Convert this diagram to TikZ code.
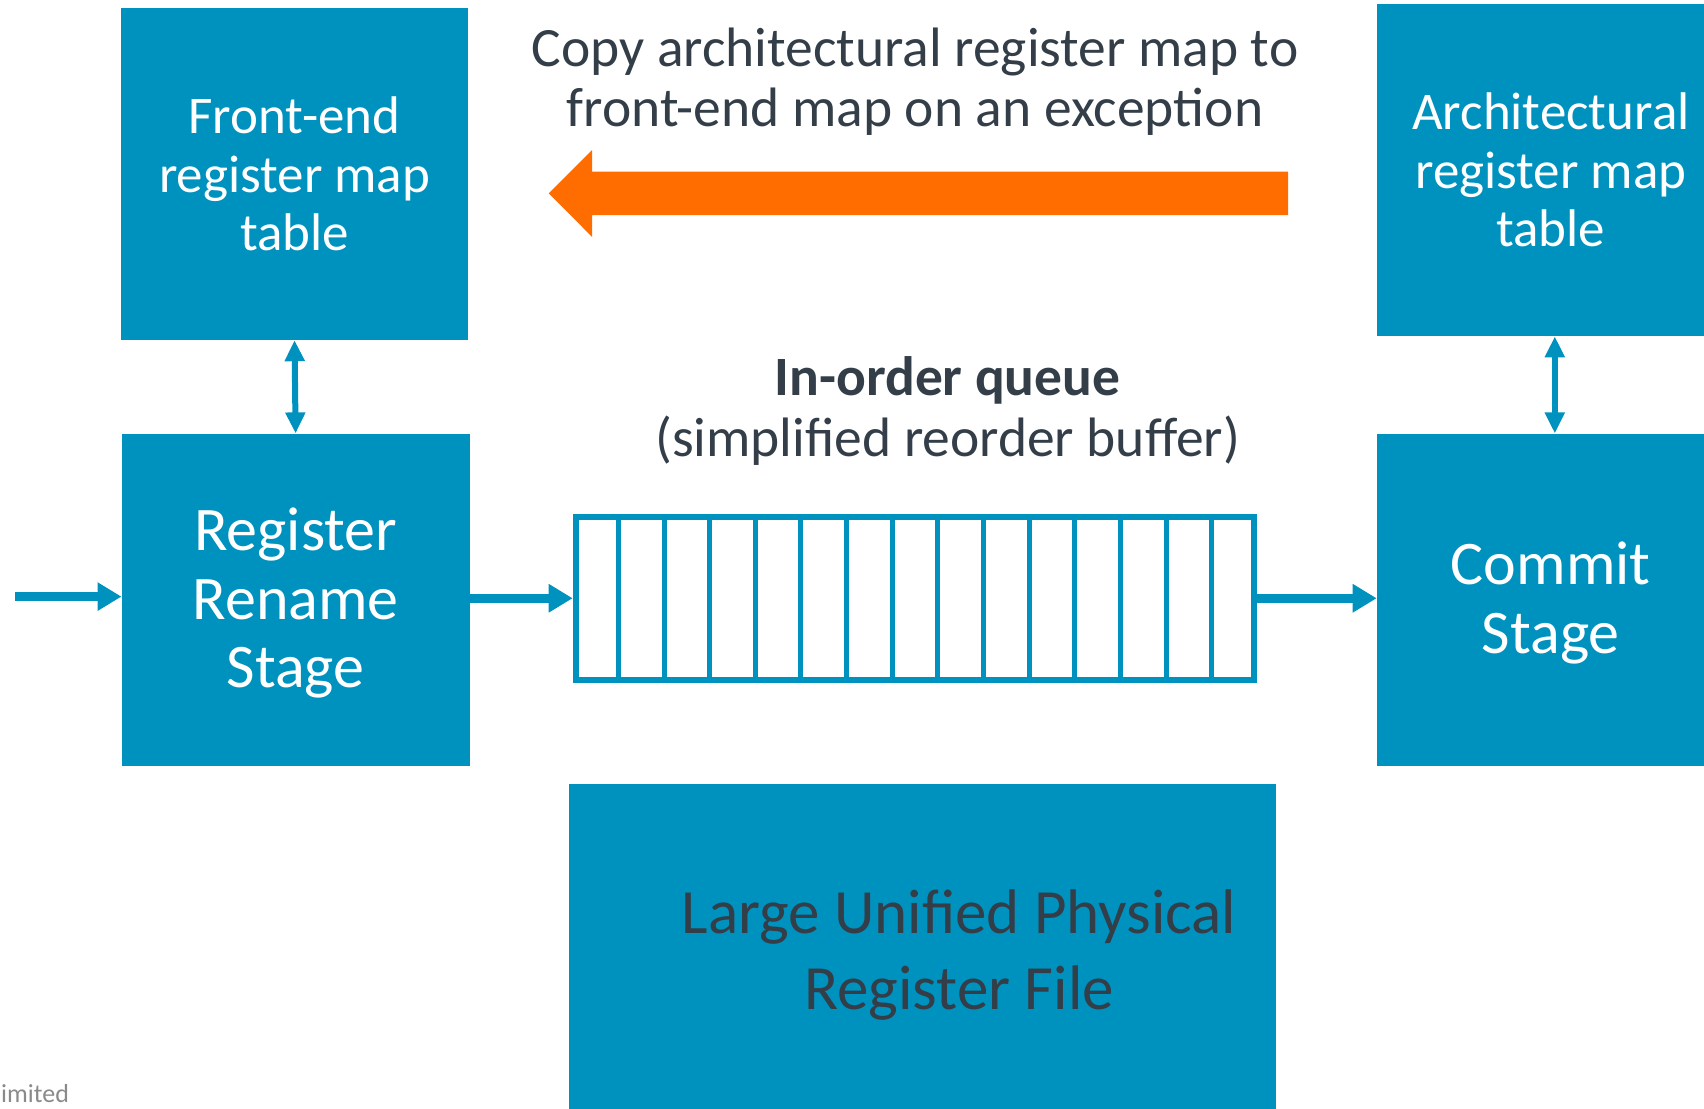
\documentclass[tikz,border=0pt]{standalone}
\usepackage{fontspec}
\setmainfont{Carlito}
\usetikzlibrary{arrows.meta,calc}
\definecolor{armblue}{HTML}{0092BE}
\definecolor{armorange}{HTML}{FF6C00}
\definecolor{inkdark}{HTML}{333E48}
\definecolor{footgray}{HTML}{8A8A8A}
\tikzset{
  block/.style={fill=armblue, inner sep=0pt, minimum width=347.8, minimum height=332.4,
    text=white, align=center},
  flow/.style={armblue, line width=8.5pt, -{Triangle[length=24pt, width=27pt]}},
  link/.style={armblue, line width=6pt, {Triangle[length=21pt, width=19pt]}-{Triangle[length=21pt, width=19pt]}},
  caption/.style={text=inkdark, align=center, inner sep=0pt},
}
\begin{document}
\begin{tikzpicture}[x=1pt, y=-1pt]
\clip (0,0) rectangle (1704,1108);
\useasboundingbox (0,0) rectangle (1704,1108);

% map tables
\node[block, font=\fontsize{53}{58.7}\selectfont] (frontend) at (294.5,173.8)
  {Front-end\\register map\\table};
\node[block, font=\fontsize{53}{58.7}\selectfont] (arch) at (1550.8,170)
  {Architectural\\register map\\table};

% pipeline stages (labels sit a little below the box centre)
\node[block, font=\fontsize{62}{68.5}\selectfont, text depth=4pt] (rename) at (295.6,599.8)
  {Register\\Rename\\Stage};
\node[block, font=\fontsize{62}{69.5}\selectfont, text depth=4pt] (commit) at (1550.8,599.8)
  {Commit\\Stage};

% physical register file
\node[fill=armblue, inner sep=0pt, minimum width=706.4, minimum height=332.4] (prf) at (922.6,949.7) {};
\node[caption, font=\fontsize{63}{76}\selectfont] (prftext) at (959,955.5)
  {Large Unified Physical\\Register File};

% in-order queue with its entries
\node[draw=armblue, line width=6pt, inner sep=0pt, minimum width=678.7, minimum height=162.5] (queue) at (915.05,598.25) {};
\foreach \k in {1,...,14}
  \draw[armblue, line width=5pt]
    ($(queue.north west)!\k/15!(queue.north east)$) -- ($(queue.south west)!\k/15!(queue.south east)$);

\node[caption, font=\fontsize{55.5}{61}\selectfont] (qlabel) at (947.6,411)
  {\textbf{In-order queue}\\(simplified reorder buffer)};

% exception copy
\node[caption, font=\fontsize{55.5}{59.8}\selectfont] (copytext) at (915,81.5)
  {Copy architectural register map to\\front-end map on an exception};
\coordinate (cpfrom) at (1288,193.4);
\coordinate (cpto) at (548.8,193.4);
\fill[armorange] ($(cpfrom)+(0,-21.8)$) -- (592,171.6) -- (592,150) -- (cpto) -- (592,236.8)
  -- (592,215.2) -- ($(cpfrom)+(0,21.8)$) -- cycle;

% connectors
\coordinate (entry) at (15,596.6);
\draw[flow] (entry) -- (entry -| rename.west);
\draw[flow] (rename.east |- queue.west) -- (queue.west);
\draw[flow] (queue.east) -- (queue.east -| commit.west);
\draw[link] (frontend.south) -- (rename.north);
\draw[link] ([xshift=4pt]arch.south) -- ([xshift=4pt]commit.north);

% footer
\node[text=footgray, font=\fontsize{26}{30}\selectfont, anchor=base west, inner sep=0pt] (foot) at (1,1102) {imited};
\end{tikzpicture}
\end{document}
